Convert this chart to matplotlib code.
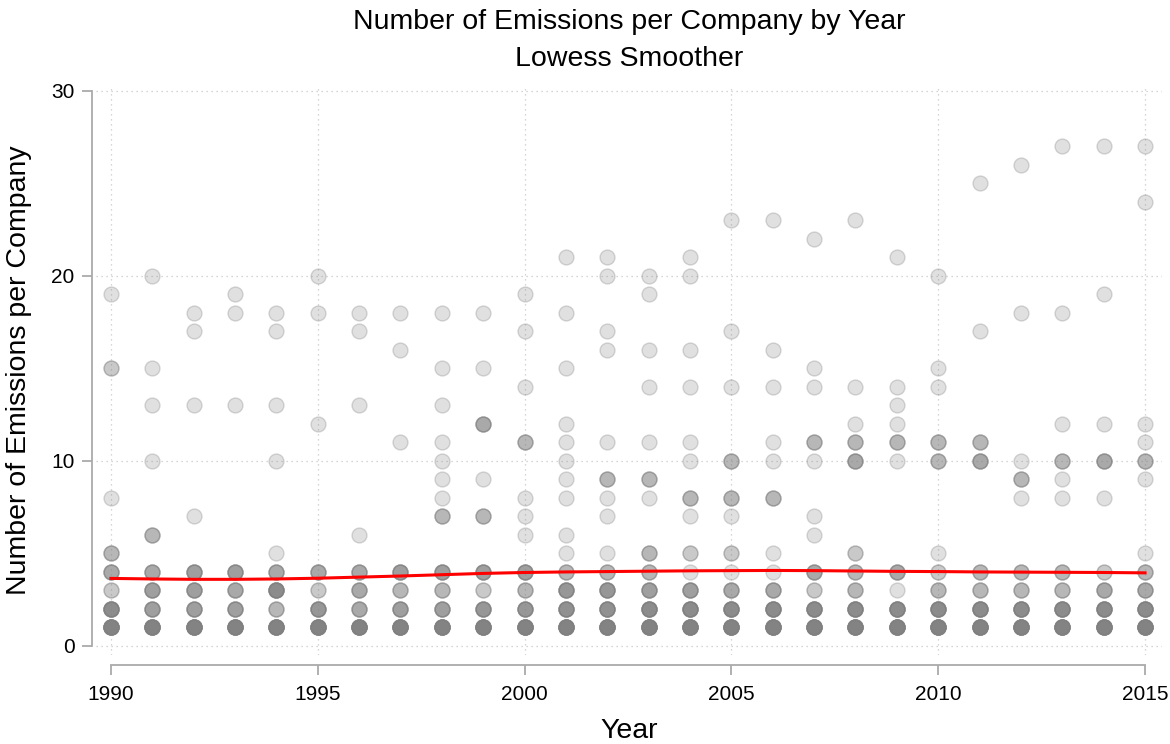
import matplotlib.pyplot as plt

# data
years = list(range(1990, 2016))

# how many companies sit on 1, 2, 3 and 4 emissions (estimated from marker darkness)
n_ones = [12] * 26
n_twos = [8, 5, 5, 5, 3, 6, 4, 5, 5, 6, 6, 7, 7, 8, 8, 8, 8, 8, 8, 8, 8, 8, 8, 8, 8, 8]
n_threes = [2, 5, 5, 4, 8, 2, 4, 3, 3, 2, 3, 6, 6, 5, 5, 4, 4, 2, 3, 1, 3, 3, 3, 3, 4, 4]
n_fours = [4, 4, 5, 5, 4, 4, 4, 5, 5, 5, 5, 3, 3, 3, 1, 1, 1, 4, 3, 4, 2, 3, 3, 3, 2, 3]

# remaining values per year (repeats = overlapping companies)
other_values = [
    [5, 5, 5, 8, 15, 15, 19],
    [6, 6, 6, 10, 13, 15, 20],
    [7, 13, 17, 18],
    [13, 18, 19],
    [5, 10, 13, 17, 18],
    [12, 18, 20],
    [6, 13, 17, 18],
    [11, 16, 18],
    [7, 7, 7, 8, 9, 10, 11, 13, 15, 18],
    [7, 7, 7, 9, 12, 12, 12, 12, 15, 18],
    [6, 7, 8, 11, 11, 11, 14, 17, 19],
    [5, 6, 8, 9, 10, 11, 12, 15, 18, 21],
    [5, 7, 8, 9, 9, 9, 11, 16, 17, 20, 21],
    [5, 5, 5, 8, 9, 9, 9, 11, 14, 16, 19, 20],
    [5, 5, 7, 8, 8, 8, 10, 11, 14, 16, 20, 21],
    [5, 5, 7, 8, 8, 8, 10, 10, 10, 14, 17, 23],
    [5, 8, 8, 8, 10, 11, 14, 16, 23],
    [6, 7, 10, 11, 11, 11, 14, 15, 22],
    [5, 5, 10, 10, 10, 10, 11, 11, 11, 12, 14, 23],
    [10, 11, 11, 11, 12, 13, 14, 21],
    [5, 10, 10, 10, 11, 11, 11, 14, 15, 20],
    [10, 10, 10, 10, 11, 11, 11, 17, 25],
    [8, 9, 9, 9, 10, 18, 26],
    [8, 9, 10, 10, 10, 12, 18, 27],
    [8, 10, 10, 10, 10, 12, 19, 27],
    [5, 9, 10, 10, 10, 11, 12, 24, 27],
]

# lowess fit
lowess_fit = [3.65, 3.62, 3.60, 3.60, 3.62, 3.66, 3.72, 3.78, 3.85, 3.92, 3.97, 4.00, 4.02,
              4.04, 4.06, 4.07, 4.08, 4.07, 4.05, 4.03, 4.02, 4.00, 3.99, 3.98, 3.97, 3.95]

x, y = [], []
for i, yr in enumerate(years):
    vals = [1] * n_ones[i] + [2] * n_twos[i] + [3] * n_threes[i] + [4] * n_fours[i] + other_values[i]
    x += [yr] * len(vals)
    y += vals

plt.rcParams['font.family'] = ['Liberation Sans', 'DejaVu Sans']

fig = plt.figure(figsize=(11.7, 7.44), dpi=100)
ax = fig.add_axes([96 / 1170, 1 - 655 / 744, (1162 - 96) / 1170, (655 - 85) / 744])

ax.scatter(x, y, s=115, facecolor=(0.5, 0.5, 0.5, 0.24), edgecolor=(0.5, 0.5, 0.5, 0.3),
           linewidth=1.0, zorder=2)
ax.plot(years, lowess_fit, color='#ff0000', linewidth=2.2, zorder=3)

ax.set_xlim(1989.64, 2015.41)
ax.set_ylim(-0.49, 30.32)
ax.set_xticks(range(1990, 2016, 5))
ax.set_yticks([0, 10, 20, 30])

ax.grid(True, linestyle=(0, (1, 3)), color='#c8c8c8', linewidth=0.9, zorder=0)

for s in ['top', 'right']:
    ax.spines[s].set_visible(False)
ax.spines['left'].set_position(('outward', 3))
ax.spines['left'].set_bounds(0, 30)
ax.spines['bottom'].set_position(('outward', 7))
ax.spines['bottom'].set_bounds(1990, 2015)
for s in ['left', 'bottom']:
    ax.spines[s].set_color('#aaaaaa')
    ax.spines[s].set_linewidth(1.3)

ax.tick_params(axis='both', direction='out', length=7.5, width=1.3, color='#aaaaaa',
               labelsize=15, pad=5)
ax.tick_params(axis='x', pad=7)

ax.set_xlabel('Year', fontsize=20.5, labelpad=10)
ax.set_ylabel('Number of Emissions per Company', fontsize=20.5, labelpad=14)
ax.set_title('Number of Emissions per Company by Year\nLowess Smoother', fontsize=20.5,
             pad=14, linespacing=1.55)

fig.savefig('out.png', dpi=100)
